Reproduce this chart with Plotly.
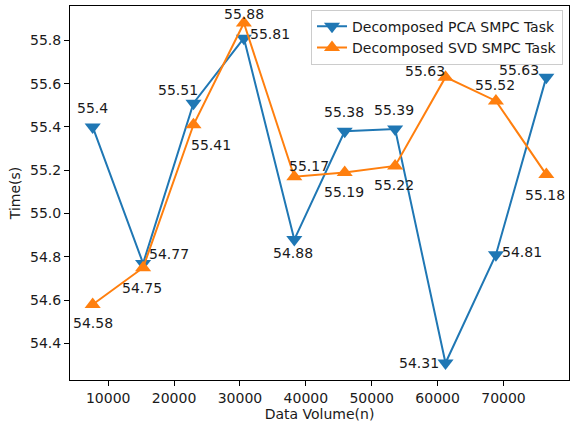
import plotly.graph_objects as go

x_values = [7650, 15300, 22950, 30600, 38250, 45900, 53550, 61200, 68850, 76500]
pca_times = [55.4, 54.77, 55.51, 55.81, 54.88, 55.38, 55.39, 54.31, 54.81, 55.63]
svd_times = [54.58, 54.75, 55.41, 55.88, 55.17, 55.19, 55.22, 55.63, 55.52, 55.18]
series_names = ["Decomposed PCA SMPC Task", "Decomposed SVD SMPC Task"]

# label placement offsets (screen px: dx right, dy down)
pca_offsets = [(0, -19), (26, -9), (-15, -13), (26, -4), (-1, 13), (-1, -19), (-1, -19), (-27, 0), (26, -3), (-27, -7)]
svd_offsets = [(0, 18), (-1, 20), (18, 20), (0, -9), (15, -11), (-1, 20), (-1, 19), (-21, -6), (-1, -16), (-1, 20)]

FONT = "DejaVu Sans"
BLUE = "#1f77b4"
ORANGE = "#ff7f0e"
FS = 14

fig = go.Figure()
fig.add_trace(go.Scatter(
    x=x_values, y=pca_times, mode="lines+markers", name=series_names[0],
    line=dict(color=BLUE, width=2),
    marker=dict(symbol="triangle-down", size=14, color=BLUE),
))
fig.add_trace(go.Scatter(
    x=x_values, y=svd_times, mode="lines+markers", name=series_names[1],
    line=dict(color=ORANGE, width=2),
    marker=dict(symbol="triangle-up", size=14, color=ORANGE),
))

annotations = []
for vals, offs in ((pca_times, pca_offsets), (svd_times, svd_offsets)):
    for xv, yv, (dx, dy) in zip(x_values, vals, offs):
        annotations.append(dict(
            x=xv, y=yv, xref="x", yref="y", text=f"{yv:g}", showarrow=False,
            xshift=dx, yshift=-dy, font=dict(family=FONT, size=FS, color="#1a1a1a"),
        ))

xmin, xmax = min(x_values), max(x_values)
allv = pca_times + svd_times
ymin, ymax = min(allv), max(allv)
xm = (xmax - xmin) * 0.05
ym = (ymax - ymin) * 0.05

axis_common = dict(
    showgrid=False, zeroline=False, showline=True, linecolor="black", linewidth=1,
    mirror=True, ticks="outside", ticklen=5, tickcolor="black", tickwidth=1,
    tickfont=dict(family=FONT, size=FS, color="#1a1a1a"), automargin=False,
)

fig.update_layout(
    width=570, height=428,
    margin=dict(l=70, r=1, t=6, b=48),
    paper_bgcolor="white", plot_bgcolor="white",
    font=dict(family=FONT, size=FS, color="#1a1a1a"),
    xaxis=dict(range=[xmin - xm, xmax + xm], tickvals=[10000, 20000, 30000, 40000, 50000, 60000, 70000],
               ticktext=["10000", "20000", "30000", "40000", "50000", "60000", "70000"],
               title=dict(text="Data Volume(n)", font=dict(family=FONT, size=FS), standoff=4), **axis_common),
    yaxis=dict(range=[ymin - ym, ymax + ym], tickvals=[54.4, 54.6, 54.8, 55.0, 55.2, 55.4, 55.6, 55.8],
               ticktext=["54.4", "54.6", "54.8", "55.0", "55.2", "55.4", "55.6", "55.8"],
               title=dict(text="Time(s)", font=dict(family=FONT, size=FS), standoff=6), **axis_common),
    legend=dict(x=0.988, y=0.99, xanchor="right", yanchor="top",
                bgcolor="rgba(255,255,255,0.8)", bordercolor="#cccccc", borderwidth=1,
                font=dict(family=FONT, size=FS, color="#1a1a1a"), tracegroupgap=0),
    showlegend=True,
    annotations=annotations,
)

fig.write_html("out.html", config={"displayModeBar": False},
               post_script="document.body.style.margin='0';document.body.style.overflow='hidden';")
